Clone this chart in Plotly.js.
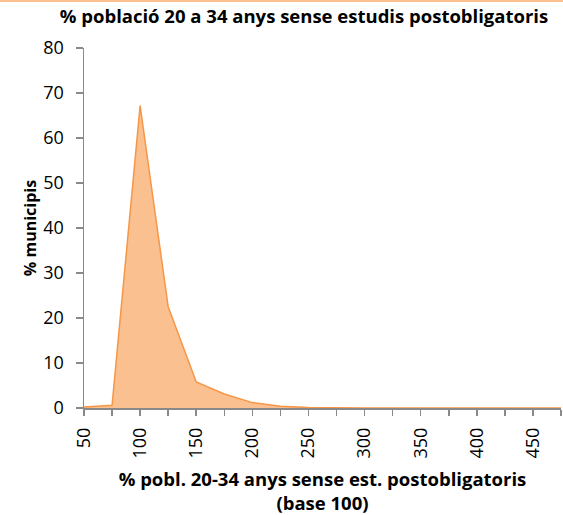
<!DOCTYPE html>
<html>
<head>
<meta charset="utf-8">
<script src="https://cdn.plot.ly/plotly-3.0.1.min.js"></script>
<style>
html,body{margin:0;padding:0;background:#fff;}
#wrap{position:relative;width:563px;height:515px;}
#chart{width:563px;height:515px;}
#topline{position:absolute;left:0;top:0;width:563px;height:2px;background:rgb(250,192,143);}
</style>
</head>
<body>
<div id="wrap"><div id="chart"></div><div id="topline"></div></div>
<script>
const categories = [50, 75, 100, 125, 150, 175, 200, 225, 250, 275, 300, 325, 350, 375, 400, 425, 450, 475];
const municipis = [0.2, 0.6, 67.2, 22.5, 5.8, 3.1, 1.2, 0.4, 0.1, 0, 0, 0, 0, 0, 0, 0, 0, 0];
const tickLabels = categories.map(c => (c % 50 === 0 ? String(c) : ''));
const yTicks = [0, 10, 20, 30, 40, 50, 60, 70, 80];

const font = 'Open Sans, Noto Sans, sans-serif';

const trace = {
  x: categories,
  y: municipis,
  type: 'scatter',
  mode: 'lines',
  fill: 'tozeroy',
  fillcolor: 'rgba(250,192,143,1)',
  line: {color: 'rgb(247,150,70)', width: 1.5},
  hoverinfo: 'x+y'
};

const layout = {
  width: 563,
  height: 515,
  margin: {l: 84, r: 2, t: 48, b: 107},
  paper_bgcolor: '#fff',
  plot_bgcolor: '#fff',
  showlegend: false,
  font: {family: font, size: 18, color: '#000'},
  title: {
    text: '<b>% població 20 a 34 anys sense estudis postobligatoris</b>',
    font: {family: font, size: 18.5, color: '#000'},
    x: 0.54, xref: 'container', xanchor: 'center',
    y: 0.967, yref: 'container', yanchor: 'middle'
  },
  xaxis: {
    type: 'linear',
    range: [50, 475],
    tickmode: 'array',
    tickvals: categories,
    ticktext: tickLabels,
    tickangle: -90,
    ticks: 'outside',
    ticklen: 6,
    tickcolor: '#898989',
    tickwidth: 1.5,
    ticklabelstandoff: 5,
    showline: true,
    linecolor: '#898989',
    linewidth: 1.5,
    showgrid: false,
    zeroline: false,
    tickfont: {family: font, size: 18, color: '#000'},
    title: {
      text: '<b>% pobl. 20-34 anys sense est. postobligatoris<br>(base 100)</b>',
      font: {family: font, size: 18.5, color: '#000'},
      standoff: 16
    }
  },
  yaxis: {
    range: [0, 80],
    tickmode: 'array',
    tickvals: yTicks,
    ticks: 'outside',
    ticklen: 7,
    tickcolor: '#898989',
    tickwidth: 1.5,
    ticklabelstandoff: 8,
    showline: true,
    linecolor: '#898989',
    linewidth: 1.5,
    showgrid: false,
    zeroline: false,
    tickfont: {family: font, size: 18, color: '#000'},
    title: {
      text: '<b>% municipis</b>',
      font: {family: font, size: 16, color: '#000'},
      standoff: 2
    }
  }
};

Plotly.newPlot('chart', [trace], layout, {displayModeBar: false, staticPlot: true});
</script>
</body>
</html>
